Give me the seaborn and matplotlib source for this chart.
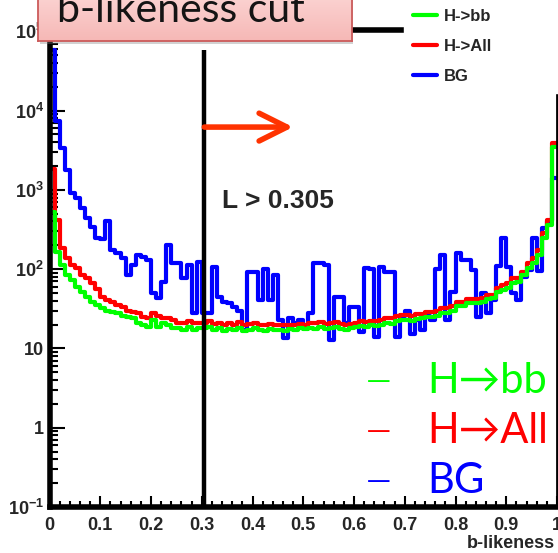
import numpy as np
import pandas as pd
import matplotlib
matplotlib.use("Agg")
import matplotlib.pyplot as plt
import seaborn as sns
from matplotlib.lines import Line2D
from matplotlib.patches import Rectangle
from matplotlib.colors import LinearSegmentedColormap
from matplotlib.ticker import (FixedLocator, FixedFormatter, LogLocator,
                               NullFormatter, MultipleLocator)

# ---- data: b-likeness distributions, 100 bins on [0, 1] ----
bin_lo, bin_hi, n_bins = 0.0, 1.0, 100

bg = [58000, 7300, 3400, 1800, 910, 790, 590, 440, 340, 250,
      240, 400, 175, 158, 138, 85, 112, 150, 142, 130,
      50, 43, 69, 200, 120, 118, 77, 112, 28, 122,
      28, 28, 106, 45, 39, 37, 33, 30, 17, 92,
      92, 41, 100, 41, 85, 23, 13.5, 24, 21, 23,
      18, 28, 118, 118, 112, 12.6, 45, 45, 21, 33,
      33, 16, 103, 100, 14, 107, 92, 92, 14, 26,
      30, 15, 23, 17, 26, 23, 100, 150, 23, 51,
      160, 130, 130, 98, 25, 50, 28, 41, 110, 250,
      107, 50, 41, 79, 98, 245, 95, 330, 400, 1400]

h_all = [1860, 415, 186, 138, 112, 103, 85, 78, 67, 56,
         44, 41, 39, 35, 33, 30, 29, 28, 25, 24,
         28, 26, 24, 24, 23, 21, 21, 22, 21, 21,
         21, 22, 20.5, 21, 20, 21, 20, 21.5, 20, 20.5,
         21, 20, 19.5, 20.5, 20, 19.7, 19.5, 20, 19.5, 20.5,
         20, 21, 21, 21.5, 20.5, 21, 21.5, 20.5, 19.7, 20.5,
         21, 22, 21.4, 22.5, 22, 23, 24, 24, 25.5, 26.3,
         26.5, 25.5, 27, 27.5, 28.5, 28.8, 30, 32.3, 32, 34,
         38.5, 38.5, 42, 42, 42, 43, 47, 47, 57.8, 63,
         66, 77, 77, 92, 119, 138, 174, 285, 416, 3900]

h_bb = [530, 165, 112, 85, 73, 59, 51, 44, 39, 35,
        32, 30, 29, 28, 26, 25, 24, 21, 20, 18.6,
        23, 18.6, 21, 20, 18, 18, 17, 18.6, 17, 18,
        18, 18.5, 17, 18, 16.5, 17.5, 17, 18, 16.5, 17,
        18, 17, 16.5, 17.5, 17, 17, 16.5, 17.5, 17, 18,
        17.5, 18, 17.8, 18.5, 17.5, 18, 18.5, 17.5, 17, 18,
        18.5, 19, 18.6, 19.5, 19, 20, 21, 20.5, 22, 22.8,
        23, 22, 23.5, 24, 25, 24.9, 26, 27.9, 28, 30,
        34, 34.3, 37, 37.4, 37, 38, 42, 43, 51, 55,
        58, 66, 69, 84, 103, 119, 151, 247, 360, 3500]

cut_value = 0.305
series_names = ["H->bb", "H->All", "BG"]
series_colors = ["#00ff00", "#ff0000", "#0000ff"]
big_labels = ["H\u2192bb", "H\u2192All", "BG"]

x_ticks = [0, 0.1, 0.2, 0.3, 0.4, 0.5, 0.6, 0.7, 0.8, 0.9, 1.0]
x_tick_labels = ["0", "0.1", "0.2", "0.3", "0.4", "0.5", "0.6", "0.7", "0.8", "0.9", "1"]
y_ticks = [0.1, 1, 10, 100, 1000, 1e4, 1e5]
y_tick_labels = [r"$10^{-1}$", "1", "10", r"$10^{2}$", r"$10^{3}$", r"$10^{4}$", r"$10^{5}$"]

# ---- style ----
sns.set_style("ticks")
plt.rcParams["font.family"] = ["Liberation Sans", "DejaVu Sans"]
plt.rcParams["mathtext.fontset"] = "custom"
plt.rcParams["mathtext.rm"] = "Liberation Sans:bold"
plt.rcParams["mathtext.bf"] = "Liberation Sans:bold"
plt.rcParams["mathtext.it"] = "Liberation Sans:bold"
plt.rcParams["mathtext.default"] = "bf"

W, H = 558, 553
fig = plt.figure(figsize=(W / 100, H / 100), dpi=100)
fig.patch.set_facecolor("white")


def fx(px):
    return px / W


def fy(py):
    return 1 - py / H


ax = fig.add_axes([fx(49.5), fy(507), fx(557) - fx(49.5), fy(30) - fy(507)])
ax.set_facecolor("white")

edges = np.linspace(bin_lo, bin_hi, n_bins + 1)
centers = 0.5 * (edges[:-1] + edges[1:])
df = pd.DataFrame({
    "b": np.tile(centers, 3),
    "w": np.concatenate([bg, h_all, h_bb]),
    "sample": np.repeat(["BG", "H->All", "H->bb"], n_bins),
})

color_of = dict(zip(series_names, series_colors))
for name in ["BG", "H->All", "H->bb"]:
    sns.histplot(data=df[df["sample"] == name], x="b", weights="w",
                 bins=n_bins, binrange=(bin_lo, bin_hi),
                 element="step", fill=False, color=color_of[name],
                 linewidth=3.0, ax=ax)

ax.set_yscale("log")
ax.set_xlim(bin_lo, bin_hi)
ax.set_ylim(0.1, 1.04e5)
ax.set_xlabel("")
ax.set_ylabel("")

# ROOT-like axes
ax.xaxis.set_major_locator(FixedLocator(x_ticks))
ax.xaxis.set_major_formatter(FixedFormatter(x_tick_labels))
ax.xaxis.set_minor_locator(MultipleLocator(0.02))
ax.yaxis.set_major_locator(FixedLocator(y_ticks))
ax.yaxis.set_major_formatter(FixedFormatter(y_tick_labels))
ax.yaxis.set_minor_locator(LogLocator(base=10, subs=range(2, 10), numticks=30))
ax.yaxis.set_minor_formatter(NullFormatter())
ax.tick_params(which="both", direction="in", top=False, right=False, color="black")
ax.tick_params(axis="y", which="major", length=11, width=1.5, pad=4)
ax.tick_params(axis="y", which="minor", length=5.5, width=1.5)
ax.tick_params(axis="x", which="major", length=8, width=1.5, pad=7)
ax.tick_params(axis="x", which="minor", length=4, width=1.5)
for lab in ax.get_xticklabels() + ax.get_yticklabels():
    lab.set_fontsize(13)
    lab.set_fontweight("bold")
for sp in ax.spines.values():
    sp.set_visible(True)
    sp.set_linewidth(4)
    sp.set_color("black")
ax.spines["right"].set_linewidth(2)

# cut line and arrow
ax.vlines(cut_value, 0.1, 5.8e4, color="black", lw=3.2, zorder=3)
ax.annotate("", xy=(0.48, 6200), xytext=(cut_value, 6200),
            arrowprops=dict(arrowstyle="->,head_length=1.0,head_width=0.5",
                            color="#ff3300", lw=4.0, shrinkA=0, shrinkB=0,
                            mutation_scale=20), zorder=4)
fig.text(fx(222), fy(201), f"L > {cut_value}", fontsize=19, fontweight="bold",
         ha="left", va="center")

# small legend, top right
handles = [Line2D([], [], color=c, lw=3.0) for c in series_colors]
leg = ax.legend(handles, series_names, loc="upper left",
                bbox_to_anchor=(fx(404), fy(90), fx(562) - fx(404), fy(0) - fy(90)),
                bbox_transform=fig.transFigure, mode="expand",
                frameon=True, fancybox=False, facecolor="white", edgecolor="white",
                framealpha=1, borderaxespad=0, borderpad=0.55, handlelength=1.45,
                handletextpad=0.4, labelspacing=0.88,
                prop={"family": "Liberation Sans", "weight": "bold", "size": 12})

# x-axis title
fig.text(fx(555), fy(544), "b-likeness", fontsize=13, fontweight="bold",
         ha="right", va="center")

# big coloured labels, lower right
big_font = ["Lato", "DejaVu Sans"]
for lab, col, base in zip(big_labels, series_colors, [393, 443, 493]):
    fig.text(fx(367), fy(base - 4.5), "\u2014", color=col, fontsize=17,
             family=["DejaVu Sans"], ha="left", va="baseline")
    fig.text(fx(427), fy(base), lab, color=col, fontsize=30,
             family=big_font, ha="left", va="baseline")

# title box with shadow
shadow = Rectangle((fx(40), fy(44)), fx(353) - fx(40), fy(-10) - fy(44),
                   transform=fig.transFigure, facecolor="#808080", alpha=0.35,
                   edgecolor="none", zorder=1.5)
fig.patches.append(shadow)
tax = fig.add_axes([fx(38), fy(41), fx(352) - fx(38), fy(-10) - fy(41)])
tax.set_zorder(2)
grad = LinearSegmentedColormap.from_list("pinkfill", ["#fcd6d5", "#f6b8b6"])
tax.imshow(np.linspace(0, 1, 64)[:, None], cmap=grad, aspect="auto",
           extent=[0, 1, 0, 1], origin="upper")
tax.set_xticks([])
tax.set_yticks([])
for sp in tax.spines.values():
    sp.set_color("#cc5b5b")
    sp.set_linewidth(1.3)
fig.text(fx(57), fy(22), "b-likeness cut", fontsize=29.5, family=big_font,
         color="#141414", ha="left", va="baseline", zorder=3)

fig.savefig("out.png", dpi=100)
